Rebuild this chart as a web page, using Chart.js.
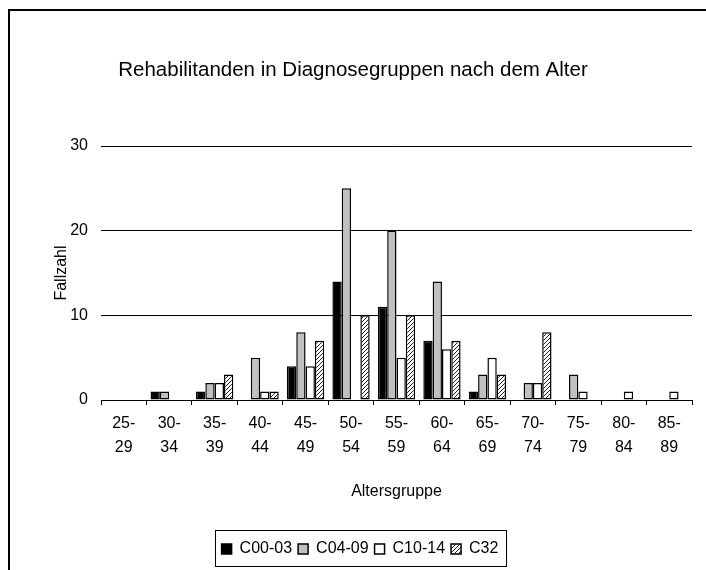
<!DOCTYPE html>
<html>
<head>
<meta charset="utf-8">
<script src="https://cdn.jsdelivr.net/npm/chart.js@4.4.0/dist/chart.umd.min.js"></script>
<style>
  body { margin: 0; background: #fff; }
  #frame { position: absolute; left: 8px; top: 9px; width: 800px; height: 800px;
           border-left: 2px solid #000; border-top: 2px solid #000; }
  #wrap { position: absolute; left: 0; top: 0; width: 706px; height: 570px; }
</style>
</head>
<body>
<div id="frame"></div>
<div id="wrap"><canvas id="myChart" width="706" height="570"></canvas></div>
<script>
// Altersgruppen und Fallzahlen je Diagnosegruppe
const ageGroups = ['25-29', '30-34', '35-39', '40-44', '45-49', '50-54', '55-59',
                   '60-64', '65-69', '70-74', '75-79', '80-84', '85-89'];
const c00_03 = [0, 1, 1, 0, 4, 14, 11, 7, 1, 0, 0, 0, 0];
const c04_09 = [0, 1, 2, 5, 8, 25, 20, 14, 3, 2, 3, 0, 0];
const c10_14 = [0, 0, 2, 1, 4, 0, 5, 6, 5, 2, 1, 1, 1];
const c32    = [0, 0, 3, 1, 7, 10, 10, 7, 3, 8, 0, 0, 0];
const yTicks = [0, 10, 20, 30];

// Schraffur fuer C32
function makeHatch() {
    const c = document.createElement('canvas');
    c.width = 4; c.height = 4;
    const g = c.getContext('2d');
    g.fillStyle = '#fff';
    g.fillRect(0, 0, 4, 4);
    g.strokeStyle = '#222';
    g.lineWidth = 1;
    g.beginPath();
    g.moveTo(0, 4); g.lineTo(4, 0);
    g.moveTo(-1, 1); g.lineTo(1, -1);
    g.moveTo(3, 5); g.lineTo(5, 3);
    g.stroke();
    return g.createPattern(c, 'repeat');
}

const legendPad = 6;

// Titel und Legende etwas nach rechts schieben, Legende einrahmen
const legendFrame = {
    id: 'legendFrame',
    afterLayout(chart) {
        const t = chart.titleBlock;
        t.left += 7;
        t.right += 7;
        const l = chart.legend;
        l.left += 14;
        l.right += 14;
    },
    afterDraw(chart) {
        const l = chart.legend;
        const rowW = l.lineWidths[0];
        const x0 = (l.left + legendPad + l.right - rowW) / 2;
        const x1 = x0 + rowW - legendPad;
        const left = x0 - 7;
        const right = x1 + 7;
        const top = l.top + legendPad - 11;
        const bottom = l.top + legendPad + 16 + 9;
        const ctx = chart.ctx;
        ctx.save();
        ctx.strokeStyle = '#000';
        ctx.lineWidth = 1;
        ctx.strokeRect(Math.round(left) + 0.5, Math.round(top) + 0.5,
                       Math.round(right - left), Math.round(bottom - top));
        ctx.restore();
    }
};

Chart.defaults.font.family = '"Liberation Sans", Arial, sans-serif';
Chart.defaults.color = '#000';

const barStyle = { borderColor: '#000', borderWidth: 1.5, borderSkipped: false,
                   categoryPercentage: 0.82, barPercentage: 1 };

const ctx = document.getElementById('myChart').getContext('2d');
new Chart(ctx, {
    type: 'bar',
    data: {
        labels: ageGroups,
        datasets: [
            { label: 'C00-03', data: c00_03, backgroundColor: '#000000', ...barStyle },
            { label: 'C04-09', data: c04_09, backgroundColor: '#c0c0c0', ...barStyle },
            { label: 'C10-14', data: c10_14, backgroundColor: '#ffffff', ...barStyle },
            { label: 'C32', data: c32, backgroundColor: makeHatch(), ...barStyle }
        ]
    },
    options: {
        responsive: false,
        animation: false,
        layout: { padding: { left: 0, right: 14, top: 0, bottom: 3 } },
        plugins: {
            title: {
                display: true,
                text: 'Rehabilitanden in Diagnosegruppen nach dem Alter',
                font: { size: 20.5, weight: 'normal' },
                padding: { top: 58, bottom: 63.4 }
            },
            legend: {
                position: 'bottom',
                labels: { boxWidth: 10, boxHeight: 10, padding: legendPad, font: { size: 16 } }
            },
            tooltip: { enabled: false }
        },
        scales: {
            x: {
                afterFit(scale) { scale.height = 135; },
                grid: { offset: true, drawOnChartArea: false, drawTicks: true,
                        tickLength: 5, color: '#000' },
                border: { display: true, color: '#000' },
                ticks: {
                    padding: 7.4,
                    font: { size: 16, lineHeight: 1.45 },
                    maxRotation: 0,
                    callback(value) {
                        const parts = ageGroups[value].split('-');
                        return [parts[0] + '-', parts[1]];
                    }
                },
                title: { display: true, text: 'Altersgruppe', font: { size: 16 },
                         padding: { top: 0, bottom: 33.4 } }
            },
            y: {
                min: 0, max: 30,
                afterFit(scale) { scale.width = 101; },
                afterBuildTicks(scale) { scale.ticks = yTicks.map(v => ({ value: v })); },
                grid: { drawTicks: false, color: '#000' },
                border: { display: false },
                ticks: { padding: 13, font: { size: 16 } },
                title: { display: true, text: 'Fallzahl', font: { size: 16 },
                         padding: { top: 52.4, bottom: 0 } }
            }
        }
    },
    plugins: [legendFrame]
});
</script>
</body>
</html>
